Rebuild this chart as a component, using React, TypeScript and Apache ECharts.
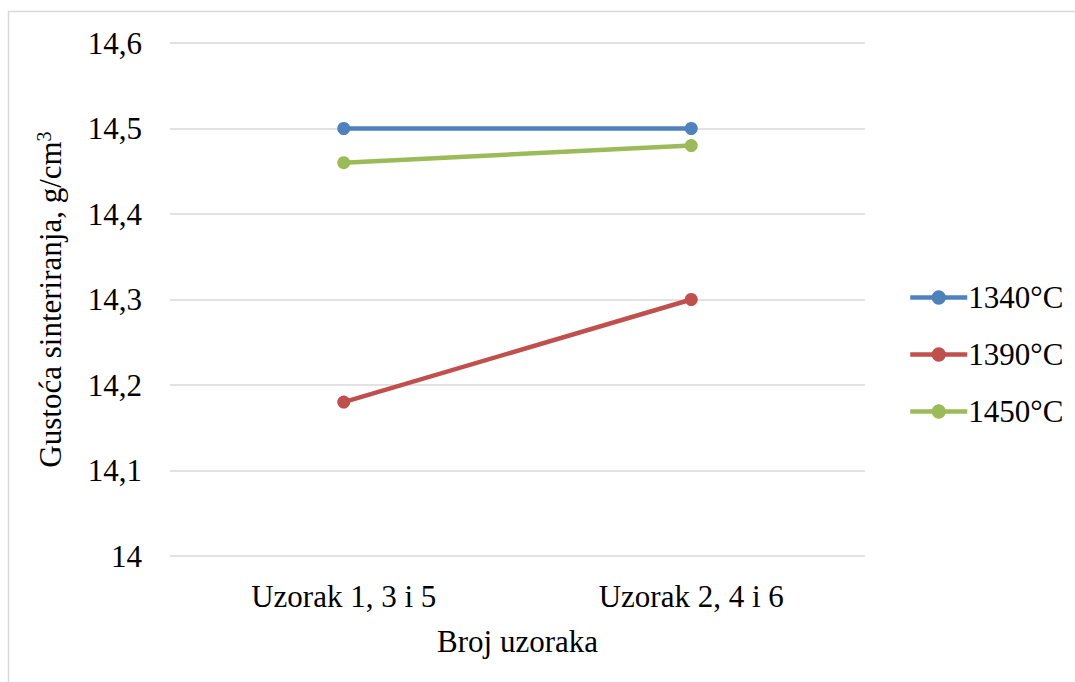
import React, { useEffect, useRef } from "react";
import * as echarts from "echarts";

const categories = ["Uzorak 1, 3 i 5", "Uzorak 2, 4 i 6"];
const seriesNames = ["1340°C", "1390°C", "1450°C"];
const s1340 = [14.5, 14.5];
const s1390 = [14.18, 14.3];
const s1450 = [14.46, 14.48];
const colors = ["#4F81BD", "#C0504D", "#9BBB59"];
const yMin = 14;
const yMax = 14.6;
const yInterval = 0.1;

export default function App() {
  const ref = useRef<HTMLDivElement>(null);
  useEffect(() => {
    if (!ref.current) return;
    const chart = echarts.init(ref.current, undefined, { renderer: "svg" });
    const font = "Liberation Serif";
    const fs = 31;
    const data = [s1340, s1390, s1450];
    chart.setOption({
      animation: false,
      backgroundColor: "#fff",
      textStyle: { fontFamily: font },
      graphic: [
        {
          type: "rect",
          shape: { x: 8.5, y: 11.5, width: 1200, height: 1200 },
          style: { fill: "none", stroke: "#D9D9D9", lineWidth: 1.5 },
          silent: true,
        },
      ],
      grid: { left: 170, right: 210, top: 43, bottom: 126, containLabel: false },
      legend: {
        orient: "vertical",
        left: 903,
        top: 277,
        itemWidth: 57,
        itemHeight: 18,
        itemGap: 26,
        lineStyle: { width: 4.5 },
        textStyle: { fontFamily: font, fontSize: fs, color: "#000", padding: [0, 0, 0, -4] },
        data: seriesNames,
      },
      xAxis: {
        type: "category",
        data: categories,
        boundaryGap: true,
        axisLine: { show: false },
        axisTick: { show: false },
        axisLabel: { fontFamily: font, fontSize: fs, color: "#000", margin: 25 },
        name: "Broj uzoraka",
        nameLocation: "middle",
        nameGap: 70,
        nameTextStyle: { fontFamily: font, fontSize: fs, color: "#000" },
      },
      yAxis: {
        type: "value",
        min: yMin,
        max: yMax,
        interval: yInterval,
        axisLine: { show: false },
        axisTick: { show: false },
        splitLine: { lineStyle: { color: "#D9D9D9", width: 1.5 } },
        axisLabel: {
          fontFamily: font,
          fontSize: fs,
          color: "#000",
          margin: 28,
          formatter: (v: number) => {
            const r = Math.round(v * 10) / 10;
            return Number.isInteger(r) ? String(r) : r.toFixed(1).replace(".", ",");
          },
        },
        name: "Gustoća sinteriranja, g/cm{sup|3}",
        nameLocation: "middle",
        nameGap: 104,
        nameRotate: 90,
        nameTextStyle: {
          fontFamily: font,
          fontSize: fs,
          color: "#000",
          rich: {
            sup: { fontFamily: font, fontSize: 20, color: "#000", verticalAlign: "top", padding: [0, 0, 12, 0] },
          },
        },
      },
      series: seriesNames.map((n, i) => ({
        name: n,
        type: "line",
        data: data[i],
        symbol: "circle",
        symbolSize: 13,
        color: colors[i],
        lineStyle: { width: 4.5, color: colors[i] },
        itemStyle: { color: colors[i] },
      })),
    });
    return () => chart.dispose();
  }, []);
  return <div ref={ref} style={{ position: "fixed", left: 0, top: 0, width: 1075, height: 682 }} />;
}
